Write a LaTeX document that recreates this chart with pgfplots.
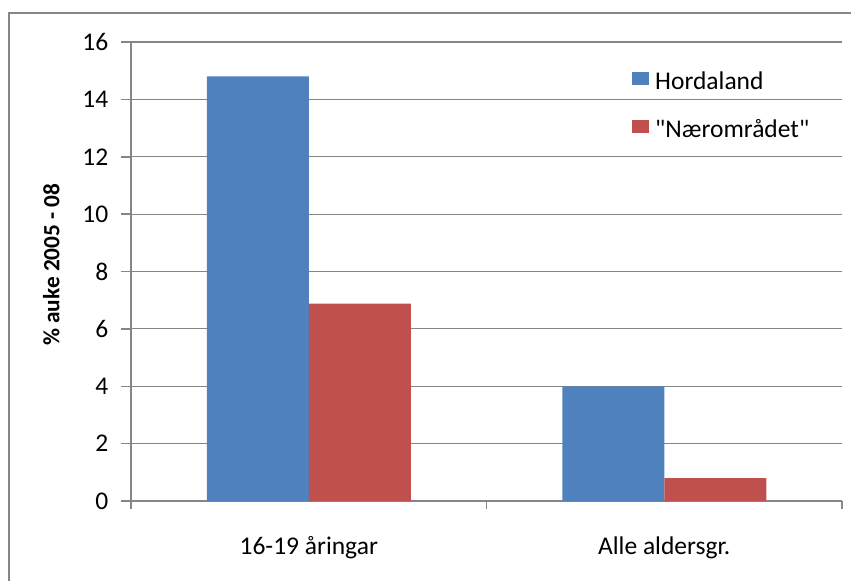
\documentclass[border=0pt]{standalone}
\usepackage{pgfplots}
\pgfplotsset{compat=1.18}
\usepackage{fontspec}
\setmainfont{Carlito}
\definecolor{hblue}{HTML}{4F81BD}
\definecolor{nred}{HTML}{C0504D}
\definecolor{axgray}{HTML}{868686}
\begin{document}
\fontsize{25.5bp}{30bp}\selectfont
\begin{tikzpicture}
\useasboundingbox (0,0) rectangle (851bp,-581bp);
\begin{scope}
\clip (0,0) rectangle (851bp,-581bp);
\draw[axgray, line width=1.5bp] (9bp,-13bp) rectangle (900bp,-640bp);
\end{scope}
\begin{axis}[
  at={(131bp,-501bp)}, anchor=south west,
  scale only axis, width=711bp, height=459bp,
  xmin=-0.5, xmax=1.5, ymin=0, ymax=16,
  ytick={0,2,...,16},
  xtick={0,1}, xticklabels={16-19 åringar, Alle aldersgr.},
  minor xtick={-0.5,0.5,1.5},
  axis x line*=bottom, axis y line*=left,
  axis line style={axgray, line width=1.5bp, -},
  ymajorgrids, grid style={axgray, line width=1.2bp},
  tick style={axgray, line width=1.5bp},
  major x tick style={draw=none},
  major tick length=10bp, minor tick length=8bp,
  tick align=outside,
  /pgf/number format/assume math mode=true,
  ticklabel style={font=\fontsize{25.5bp}{30bp}\selectfont, text=black},
  yticklabel style={xshift=-4bp},
  xticklabel style={yshift=-17bp},
  ylabel={\bfseries \% auke 2005 - 08},
  ylabel style={at={(axis description cs:-0.112,0.515)}, anchor=center, font=\fontsize{23.3bp}{28bp}\selectfont},
  ybar=0pt, bar width=102bp,
  legend style={at={(axis description cs:0.7046,0.936)}, anchor=north west, draw=none, fill=none,
    font=\fontsize{25.5bp}{30bp}\selectfont, inner sep=0pt, row sep=24bp,
    nodes={inner sep=0pt, text height=18bp, text depth=6bp},
    /tikz/every odd column/.append style={column sep=6bp}},
  legend cell align=left,
  legend image code/.code={\fill[#1] (0bp,-1.5bp) rectangle (17bp,12bp);},
]
\addplot[fill=hblue, draw=none] coordinates {(0,14.8) (1,4.0)};
\addplot[fill=nred, draw=none] coordinates {(0,6.88) (1,0.8)};
\legend{Hordaland, \textquotedbl Nærområdet\textquotedbl}
\end{axis}
\end{tikzpicture}
\end{document}
